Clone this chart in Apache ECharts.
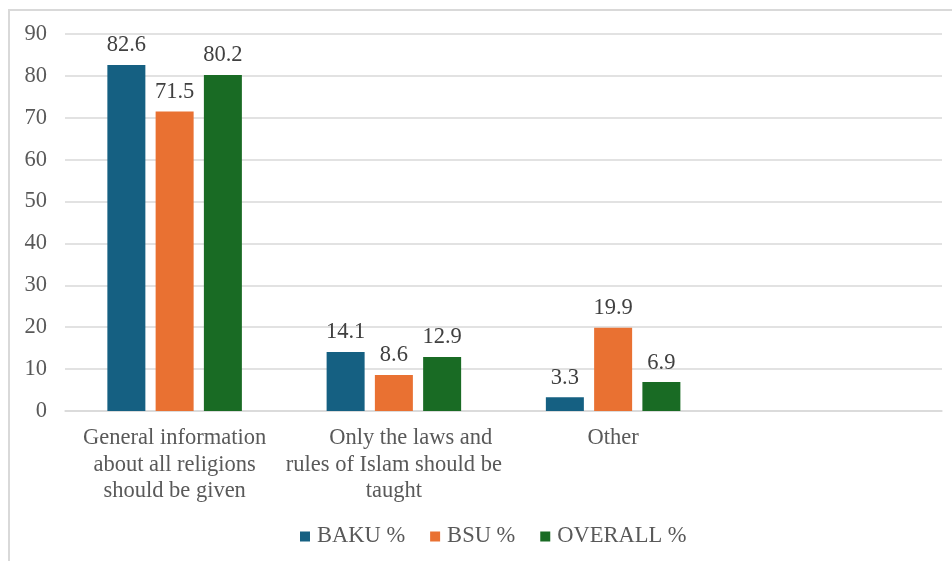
<!DOCTYPE html>
<html>
<head>
<meta charset="utf-8">
<script src="https://cdn.jsdelivr.net/npm/echarts@6/dist/echarts.min.js"></script>
<style>
  html, body { margin: 0; padding: 0; background: #fff; }
  #chart { width: 952px; height: 561px; }
</style>
</head>
<body>
<div id="chart"></div>
<script>
// Attitudes towards religious education, by group (%)
const categories = [
  'General information\nabout all religions\nshould be given',
  '\u00a0\u00a0\u00a0\u00a0\u00a0\u00a0Only the laws and\nrules of Islam should be\ntaught',
  'Other',
  ''
];
const seriesNames = ['BAKU %', 'BSU %', 'OVERALL %'];
const bakuValues = [82.6, 14.1, 3.3, null];
const bsuValues = [71.5, 8.6, 19.9, null];
const overallValues = [80.2, 12.9, 6.9, null];
const yTicks = { min: 0, max: 90, step: 10 };

const colors = ['#156082', '#E97132', '#196B24'];
const font = '"Liberation Serif", "Times New Roman", serif';
const textGrey = '#595959';
const fontSize = 22.5;

const chart = echarts.init(document.getElementById('chart'));

function barSeries(name, data, color) {
  return {
    name: name,
    type: 'bar',
    data: data,
    barWidth: 38,
    barGap: '27%',
    itemStyle: { color: color },
    label: {
      show: true,
      position: 'top',
      distance: 8,
      color: '#404040',
      fontFamily: font,
      fontSize: fontSize
    }
  };
}

chart.setOption({
  animation: false,
  backgroundColor: '#fff',
  textStyle: { fontFamily: font },
  graphic: [{
    type: 'rect',
    shape: { x: 9, y: 10, width: 1000, height: 600 },
    style: { fill: 'none', stroke: '#d9d9d9', lineWidth: 2 },
    silent: true
  }],
  grid: { left: 65, right: 10, top: 34, bottom: 150 },
  legend: {
    bottom: 8,
    left: 295,
    itemWidth: 10,
    itemHeight: 10,
    itemGap: 25,
    icon: 'rect',
    textStyle: { color: textGrey, fontFamily: font, fontSize: fontSize, padding: [0, 0, 0, 2] },
    data: seriesNames
  },
  xAxis: {
    type: 'category',
    data: categories,
    axisLine: { lineStyle: { color: '#d9d9d9', width: 1.5 } },
    axisTick: { show: false },
    axisLabel: {
      interval: 0,
      margin: 14,
      color: textGrey,
      fontFamily: font,
      fontSize: fontSize,
      lineHeight: 26.5,
      align: 'center'
    }
  },
  yAxis: {
    type: 'value',
    min: yTicks.min,
    max: yTicks.max,
    interval: yTicks.step,
    axisLine: { show: false },
    axisTick: { show: false },
    splitLine: { lineStyle: { color: '#d9d9d9', width: 1.5 } },
    axisLabel: {
      margin: 18,
      color: textGrey,
      fontFamily: font,
      fontSize: fontSize
    }
  },
  series: [
    barSeries(seriesNames[0], bakuValues, colors[0]),
    barSeries(seriesNames[1], bsuValues, colors[1]),
    barSeries(seriesNames[2], overallValues, colors[2])
  ]
});
</script>
</body>
</html>
